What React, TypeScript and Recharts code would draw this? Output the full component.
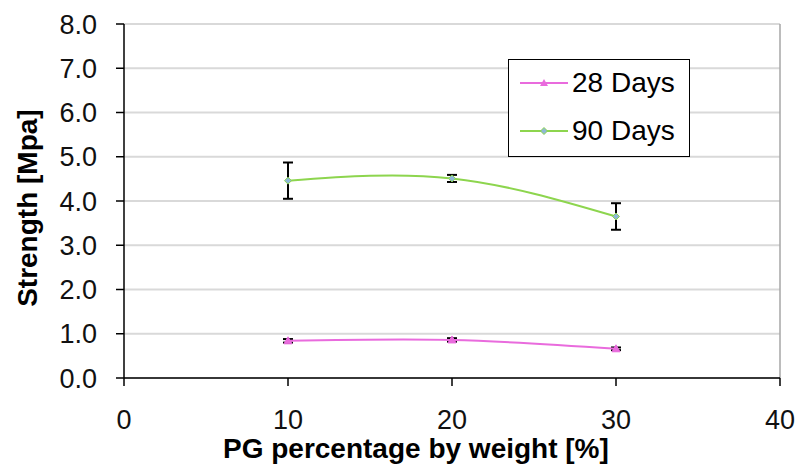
import React from 'react';
import { LineChart, Line, XAxis, YAxis, CartesianGrid, ErrorBar, ReferenceLine } from 'recharts';

const pgPercent = [10, 20, 30];
const strength28 = [0.84, 0.86, 0.66];
const err28 = [0.04, 0.04, 0.03];
const strength90 = [4.46, 4.51, 3.65];
const err90 = [0.41, 0.08, 0.3];
const xTicks = [0, 10, 20, 30, 40];
const yTicks = [0, 1, 2, 3, 4, 5, 6, 7, 8];
const seriesNames = ['28 Days', '90 Days'];
const xTitle = 'PG percentage by weight [%]';
const yTitle = 'Strength [Mpa]';

const data = pgPercent.map((p, i) => ({
  pg: p,
  d28: strength28[i],
  e28: err28[i],
  d90: strength90[i],
  e90: err90[i],
}));

const MAGENTA = '#E96BDD';
const GREEN = '#8DD54E';
const FONT = '"Liberation Sans", Arial, sans-serif';
const TICK_FS = 27;
const TITLE_FS = 28;
const LEGEND_FS = 28;

const TriangleDot = (props: any) => {
  const { cx, cy } = props;
  if (cx == null || cy == null) return null;
  return <polygon points={`${cx},${cy - 4} ${cx + 4},${cy + 3} ${cx - 4},${cy + 3}`} fill={MAGENTA} stroke={MAGENTA} strokeWidth={1} />;
};

const DiamondDot = (props: any) => {
  const { cx, cy } = props;
  if (cx == null || cy == null) return null;
  return <polygon points={`${cx},${cy - 3.5} ${cx + 3.5},${cy} ${cx},${cy + 3.5} ${cx - 3.5},${cy}`} fill="#8EB8D6" stroke={GREEN} strokeWidth={1} />;
};

const XTitle = (props: any) => {
  const vb = props.viewBox || {};
  return (
    <text x={vb.x + vb.width * 0.445} y={vb.y + 80} textAnchor="middle" fontFamily={FONT} fontSize={TITLE_FS} fontWeight="bold" fill="#000">
      {xTitle}
    </text>
  );
};

const YTitle = (props: any) => {
  const vb = props.viewBox || {};
  const cx = 27;
  const cy = vb.y + vb.height * 0.52;
  return (
    <text x={cx} y={cy} dy="0.35em" textAnchor="middle" transform={`rotate(-90, ${cx}, ${cy})`} fontFamily={FONT} fontSize={TITLE_FS} fontWeight="bold" fill="#000">
      {yTitle}
    </text>
  );
};

const LegendBox = () => (
  <div style={{ position: 'absolute', left: 508, top: 59, border: '1.5px solid #000', width: 182, height: 98, boxSizing: 'border-box', background: '#fff', fontFamily: FONT, fontSize: LEGEND_FS, color: '#000' }}>
    <svg width={62} height={96} style={{ position: 'absolute', left: 0, top: 0 }}>
      <line x1={11} x2={59} y1={23} y2={23} stroke={MAGENTA} strokeWidth={2} />
      <polygon points="35,19 39,26 31,26" fill={MAGENTA} />
      <line x1={11} x2={59} y1={71} y2={71} stroke={GREEN} strokeWidth={2} />
      <polygon points="35,67.5 38.5,71 35,74.5 31.5,71" fill="#8EB8D6" stroke={GREEN} strokeWidth={1} />
    </svg>
    <div style={{ position: 'absolute', left: 63, top: 7, lineHeight: '32px', whiteSpace: 'nowrap' }}>{seriesNames[0]}</div>
    <div style={{ position: 'absolute', left: 63, top: 55, lineHeight: '32px', whiteSpace: 'nowrap' }}>{seriesNames[1]}</div>
  </div>
);

export default function App() {
  return (
    <div style={{ position: 'absolute', left: 0, top: 0, width: 796, height: 466 }}>
      <LineChart width={796} height={466} data={data} margin={{ top: 24, right: 16, bottom: 28, left: 0 }}
        style={{ fontFamily: FONT }}>
        <CartesianGrid vertical={false} stroke="#D9D9D9" strokeWidth={2} />
        <ReferenceLine x={40} stroke="#A6A6A6" strokeWidth={1.5} />
        <XAxis dataKey="pg" type="number" domain={[0, 40]} ticks={xTicks} allowDataOverflow
          stroke="#000" strokeWidth={1.5} tickSize={8} tickMargin={24} height={60}
          tick={{ fill: '#111', fontSize: TICK_FS, fontFamily: FONT }}
          label={<XTitle />} />
        <YAxis type="number" domain={[0, 8]} ticks={yTicks} width={124}
          tickFormatter={(v: number) => v.toFixed(1)}
          stroke="#000" strokeWidth={1.5} tickSize={8} tickMargin={19}
          tick={{ fill: '#111', fontSize: TICK_FS, fontFamily: FONT }}
          label={<YTitle />} />
        <Line dataKey="d28" name={seriesNames[0]} type="natural" stroke={MAGENTA} strokeWidth={2} dot={<TriangleDot />} isAnimationActive={false}>
          <ErrorBar dataKey="e28" direction="y" width={5} stroke="#000" strokeWidth={2} />
        </Line>
        <Line dataKey="d90" name={seriesNames[1]} type="natural" stroke={GREEN} strokeWidth={2} dot={<DiamondDot />} isAnimationActive={false}>
          <ErrorBar dataKey="e90" direction="y" width={5} stroke="#000" strokeWidth={2} />
        </Line>
      </LineChart>
      <LegendBox />
    </div>
  );
}
